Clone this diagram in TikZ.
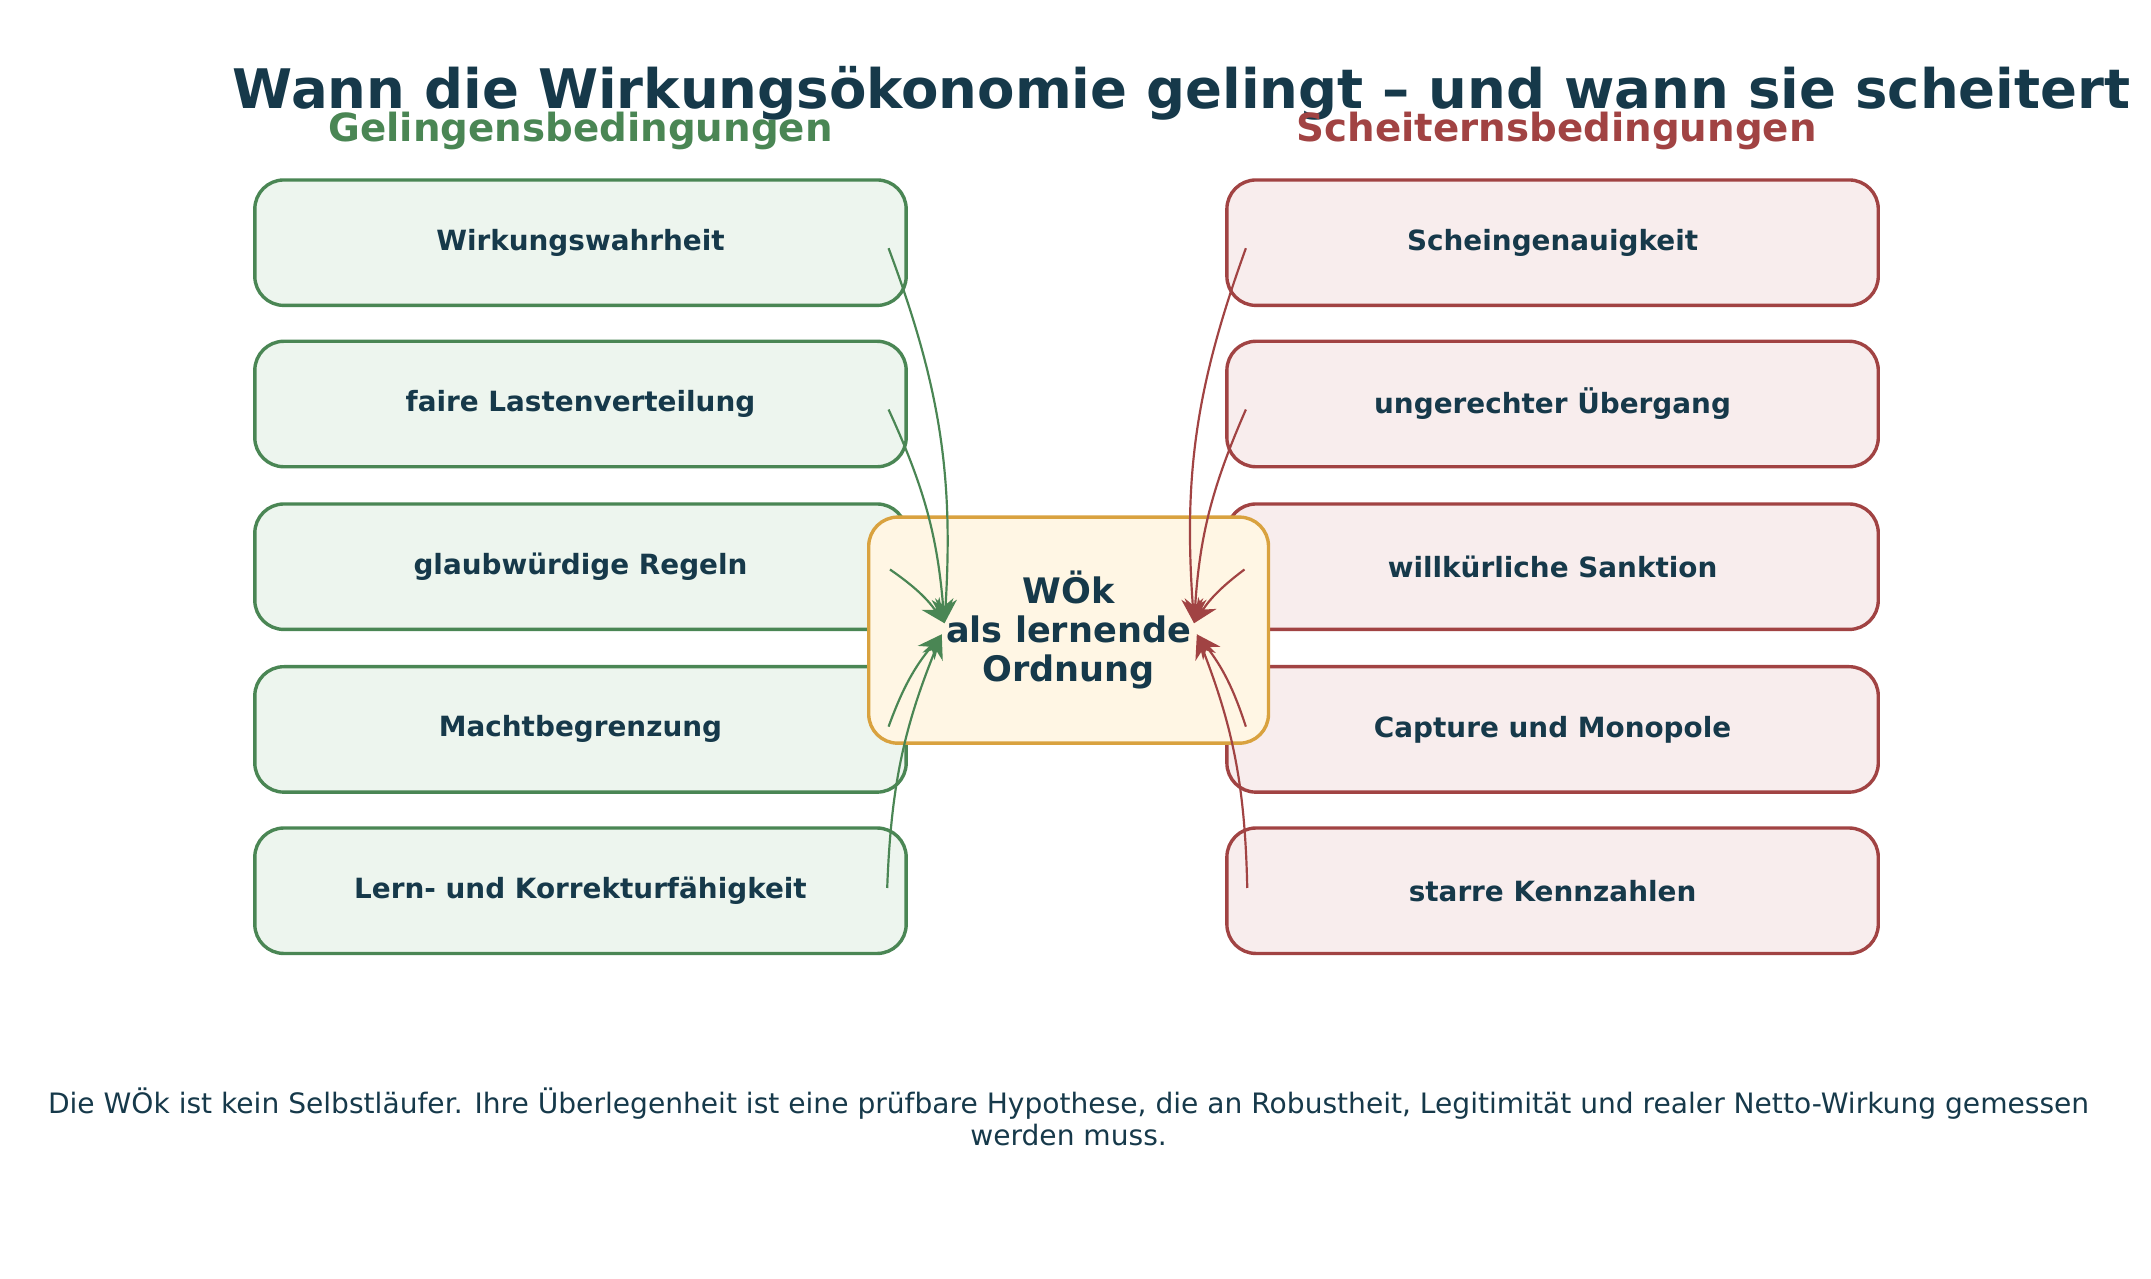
\documentclass[tikz,border=0pt]{standalone}
\usepackage{fontspec}
\setmainfont{DejaVu Sans}
\usetikzlibrary{positioning,arrows.meta}
\definecolor{navy}{HTML}{16394A}
\definecolor{gut}{HTML}{4A8654}
\definecolor{gutfill}{HTML}{EDF5EE}
\definecolor{bad}{HTML}{A14343}
\definecolor{badfill}{HTML}{F8EDED}
\definecolor{mid}{HTML}{D9A23F}
\definecolor{midfill}{HTML}{FFF6E4}
\begin{document}
\begin{tikzpicture}[x=0.02cm,y=-0.02cm,
  box/.style={draw,line width=1.4pt,rounded corners=12pt,minimum width=9.45cm,minimum height=1.82cm,font=\bfseries\fontsize{11.5}{13}\selectfont,text=navy},
  gbox/.style={box,draw=gut,fill=gutfill},
  rbox/.style={box,draw=bad,fill=badfill},
  garr/.style={gut,line width=0.9pt,-{Stealth[length=10pt,width=9pt]}},
  rarr/.style={bad,line width=0.9pt,-{Stealth[length=10pt,width=9pt]}}]
\useasboundingbox (0,0) rectangle (1560,927);
\node[text=navy,font=\bfseries\fontsize{22.5}{26}\selectfont] (title) at (857,68) {Wann die Wirkungsökonomie gelingt – und wann sie scheitert};
\node[text=gut,font=\bfseries\fontsize{16}{18}\selectfont] (gh) at (421,95) {Gelingensbedingungen};
\node[text=bad,font=\bfseries\fontsize{16}{18}\selectfont] (rh) at (1129,95) {Scheiternsbedingungen};
\foreach \n/\y/\t in {1/176/Wirkungswahrheit,2/293/faire Lastenverteilung,3/411/glaubwürdige Regeln,4/529/Machtbegrenzung,5/646/Lern- und Korrekturfähigkeit}
  \node[gbox] (g\n) at (421,\y) {\t};
\foreach \n/\y/\t in {1/176/Scheingenauigkeit,2/293/ungerechter Übergang,3/411/willkürliche Sanktion,4/529/Capture und Monopole,5/646/starre Kennzahlen}
  \node[rbox] (r\n) at (1126,\y) {\t};
\node[draw=mid,fill=midfill,line width=1.4pt,rounded corners=12pt,minimum width=5.8cm,minimum height=3.28cm,
  text=navy,align=center,font=\bfseries\fontsize{14.5}{16}\selectfont] (core) at (775,457) {WÖk\\als lernende\\Ordnung};
\coordinate (gin) at (685,452);
\coordinate (gin2) at (683,460);
\coordinate (rin) at (866,452);
\coordinate (rin2) at (868,460);
\draw[garr] ([xshift=-0.28cm,yshift=-0.08cm]g1.east) to[bend left=12] (gin);
\draw[garr] ([xshift=-0.28cm,yshift=-0.08cm]g2.east) to[bend left=10] (gin);
\draw[garr] ([xshift=-0.26cm,yshift=-0.04cm]g3.east) to[bend left=10] (gin);
\draw[garr] ([xshift=-0.28cm,yshift=0.04cm]g4.east) to[bend left=10] (gin2);
\draw[garr] ([xshift=-0.30cm,yshift=0.04cm]g5.east) to[bend left=10] (gin2);
\draw[rarr] ([xshift=0.30cm,yshift=-0.08cm]r1.west) to[bend right=12] (rin);
\draw[rarr] ([xshift=0.30cm,yshift=-0.08cm]r2.west) to[bend right=10] (rin);
\draw[rarr] ([xshift=0.28cm,yshift=-0.04cm]r3.west) to[bend right=10] (rin);
\draw[rarr] ([xshift=0.30cm,yshift=0.04cm]r4.west) to[bend right=10] (rin2);
\draw[rarr] ([xshift=0.32cm,yshift=0.04cm]r5.west) to[bend right=10] (rin2);
\node[text=navy,align=center,font=\fontsize{11.6}{13.5}\selectfont] (foot) at (775,810)
  {Die WÖk ist kein Selbstläufer. Ihre Überlegenheit ist eine prüfbare Hypothese, die an Robustheit, Legitimität und realer Netto-Wirkung gemessen\\werden muss.};
\end{tikzpicture}
\end{document}
